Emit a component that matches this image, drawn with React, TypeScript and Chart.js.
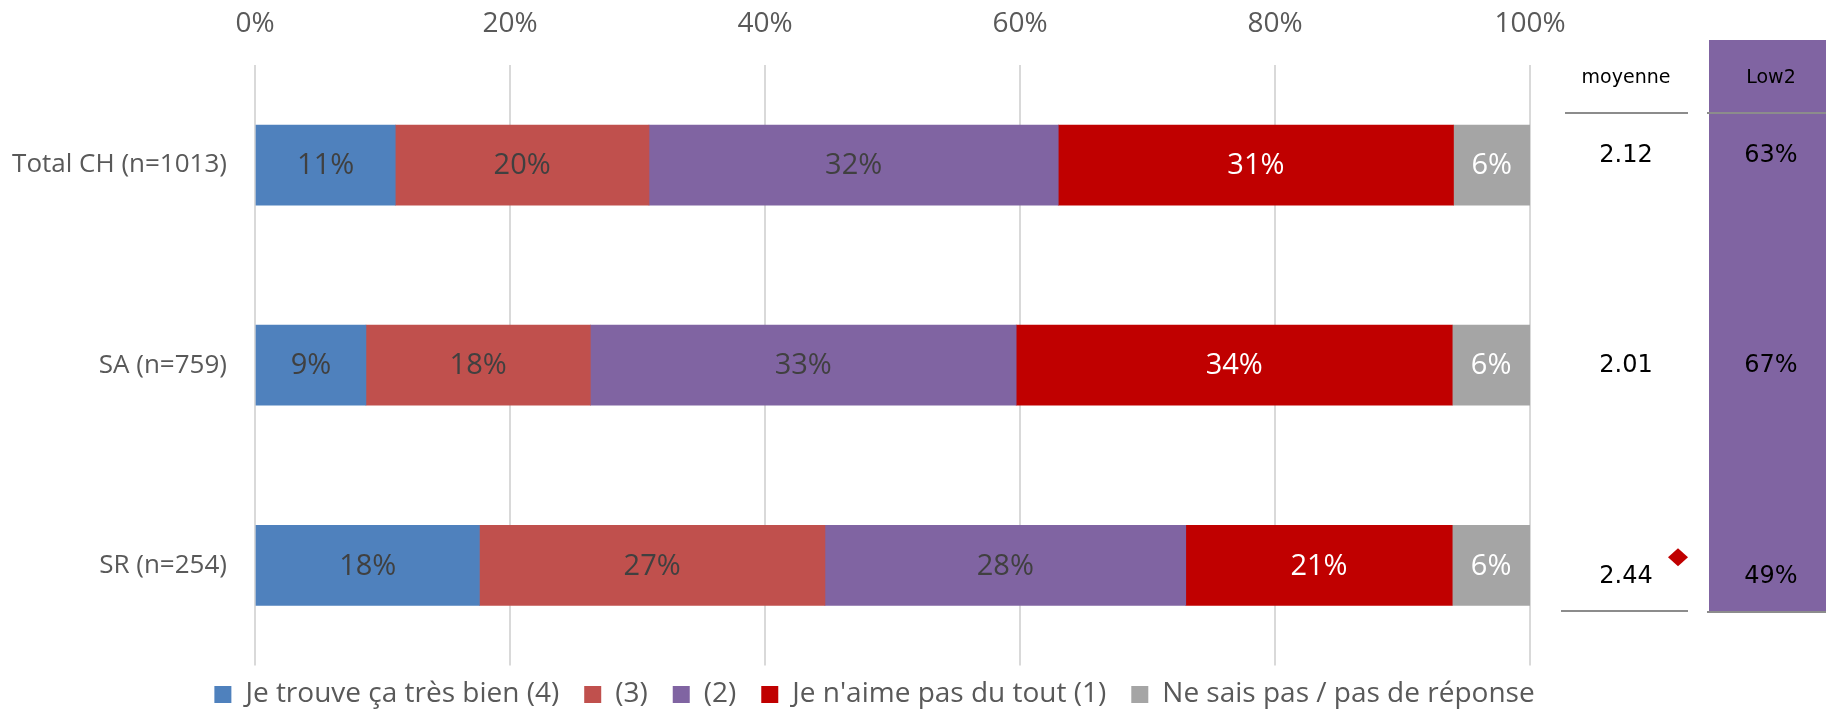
import React, { useEffect, useRef } from "react";
import { Chart, registerables } from "chart.js";

Chart.register(...registerables);

const categories = ["Total CH (n=1013)", "SA (n=759)", "SR (n=254)"];
const seriesNames = [
  "Je trouve ça très bien (4)",
  "(3)",
  "(2)",
  "Je n'aime pas du tout (1)",
  "Ne sais pas / pas de réponse",
];
const tresBien = [11.0, 8.7, 17.6];
const trois = [19.9, 17.6, 27.1];
const deux = [32.1, 33.4, 28.3];
const pasDuTout = [31.0, 34.2, 20.9];
const nsp = [6.0, 6.1, 6.1];
const xTicks = [0, 20, 40, 60, 80, 100];
const moyenne = ["2.12", "2.01", "2.44"];
const low2 = ["63%", "67%", "49%"];
const significant = [false, false, true];

const seriesColors = ["#4F81BD", "#C0504D", "#8064A2", "#C00000", "#A5A5A5"];
const labelColors = ["#404040", "#404040", "#404040", "#FFFFFF", "#FFFFFF"];
const FONT = "'Open Sans', sans-serif";
const TABLE_FONT = "'DejaVu Sans', sans-serif";

const dataLabelPlugin = {
  id: "dataLabels",
  afterDatasetsDraw(chart: any) {
    const ctx = chart.ctx;
    ctx.save();
    ctx.font = `29px ${FONT}`;
    ctx.textAlign = "center";
    ctx.textBaseline = "middle";
    chart.data.datasets.forEach((ds: any, di: number) => {
      const meta = chart.getDatasetMeta(di);
      meta.data.forEach((bar: any, i: number) => {
        const v = ds.data[i];
        const cx = (bar.x + bar.base) / 2;
        ctx.fillStyle = labelColors[di];
        ctx.fillText(`${Math.round(v)}%`, cx, bar.y + 1);
      });
    });
    ctx.restore();
  },
};

const legendShiftPlugin = {
  id: "legendShift",
  afterLayout(chart: any) {
    const lg = chart.legend;
    const area = chart.chartArea;
    if (!lg || !area) return;
    const w = lg.right - lg.left;
    const c = (area.left + area.right) / 2 - 18;
    lg.left = c - w / 2;
    lg.right = c + w / 2;
    lg.top -= 10;
    lg.bottom -= 10;
  },
};

const tablePlugin = {
  id: "sideTable",
  afterDraw(chart: any) {
    const ctx = chart.ctx;
    const area = chart.chartArea;
    const yScale = chart.scales.y;
    const W = chart.width;
    const colM = area.right + 96;
    const colL = area.right + 241;
    const boxL = area.right + 179;
    ctx.save();
    ctx.fillStyle = "#8064A2";
    ctx.fillRect(boxL, 40, W - boxL, 572);
    ctx.strokeStyle = "#8C8C8C";
    ctx.lineWidth = 2;
    const line = (x1: number, y1: number, x2: number, y2: number) => {
      ctx.beginPath();
      ctx.moveTo(x1, y1);
      ctx.lineTo(x2, y2);
      ctx.stroke();
    };
    line(area.right + 35, 113, area.right + 158, 113);
    line(boxL - 2, 113, W, 113);
    line(area.right + 31, 611, area.right + 158, 611);
    line(boxL - 2, 612, W, 612);

    ctx.fillStyle = "#000000";
    ctx.textAlign = "center";
    ctx.textBaseline = "middle";
    ctx.font = `19px ${TABLE_FONT}`;
    ctx.fillText("moyenne", colM, 78);
    ctx.fillText("Low2", colL, 78);
    ctx.font = `24px ${TABLE_FONT}`;
    categories.forEach((_c, i) => {
      const yy = yScale.getPixelForValue(i) + (i - 1) * 10 + 1;
      ctx.fillStyle = "#000000";
      ctx.fillText(moyenne[i], colM, yy);
      ctx.fillText(low2[i], colL, yy);
      if (significant[i]) {
        const dx = area.right + 148;
        const dy = yy - 19;
        ctx.fillStyle = "#C00000";
        ctx.beginPath();
        ctx.moveTo(dx, dy - 9);
        ctx.lineTo(dx + 10, dy);
        ctx.lineTo(dx, dy + 9);
        ctx.lineTo(dx - 10, dy);
        ctx.closePath();
        ctx.fill();
      }
    });
    ctx.restore();
  },
};

export default function App() {
  const canvasRef = useRef<HTMLCanvasElement | null>(null);

  useEffect(() => {
    document.body.style.margin = "0";
    const canvas = canvasRef.current;
    if (!canvas) return;
    const seriesData = [tresBien, trois, deux, pasDuTout, nsp];
    const chart = new Chart(canvas, {
      type: "bar",
      data: {
        labels: categories,
        datasets: seriesNames.map((name, i) => ({
          label: name,
          data: seriesData[i],
          backgroundColor: seriesColors[i],
          borderWidth: 0,
          barThickness: 80,
        })),
      },
      options: {
        indexAxis: "y",
        responsive: false,
        animation: false,
        layout: { padding: { left: 0, right: 296, top: 0, bottom: -29 } },
        scales: {
          x: {
            position: "top",
            stacked: true,
            min: 0,
            max: 100,
            afterBuildTicks: (scale: any) => {
              scale.ticks = xTicks.map((v) => ({ value: v }));
            },
            afterFit: (scale: any) => {
              scale.height = 65;
            },
            ticks: {
              callback: (v: any) => `${v}%`,
              color: "#595959",
              font: { size: 28, family: FONT },
              padding: 24,
            },
            grid: { color: "#D9D9D9", lineWidth: 2, drawTicks: false },
            border: { display: false },
          },
          y: {
            stacked: true,
            afterFit: (scale: any) => {
              scale.width = 255;
            },
            ticks: {
              color: "#595959",
              font: { size: 26, family: FONT },
              padding: 28,
            },
            grid: { display: false, drawTicks: false },
            border: { display: false },
          },
        },
        plugins: {
          legend: {
            position: "bottom",
            labels: {
              color: "#595959",
              font: { size: 28, family: FONT },
              boxWidth: 17,
              boxHeight: 17,
              padding: 25,
            },
          },
          tooltip: { enabled: false },
        },
      },
      plugins: [dataLabelPlugin, legendShiftPlugin, tablePlugin],
    } as any);
    return () => chart.destroy();
  }, []);

  return (
    <div style={{ width: 1826, height: 709 }}>
      <canvas ref={canvasRef} width={1826} height={709} />
    </div>
  );
}
